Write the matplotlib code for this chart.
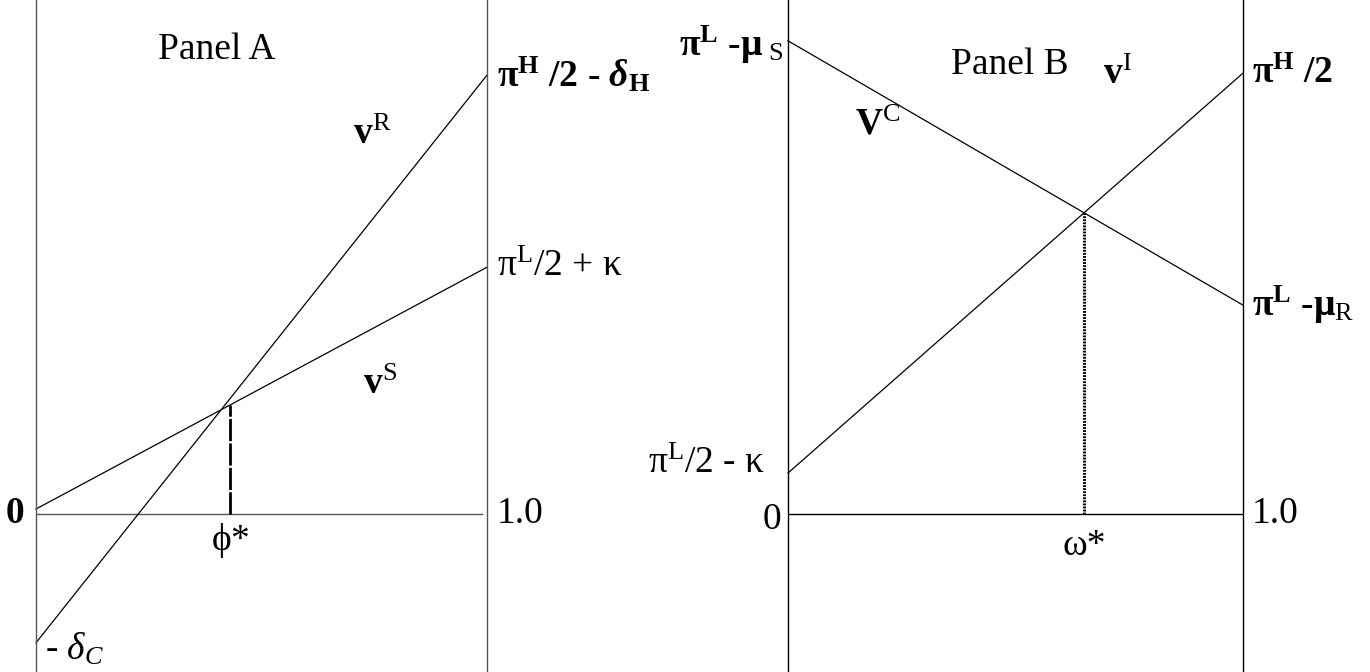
import numpy as np
import matplotlib
matplotlib.use("Agg")
import matplotlib.pyplot as plt

plt.rcParams['font.family'] = ['Liberation Serif', 'DejaVu Serif']
plt.rcParams['mathtext.fontset'] = 'custom'
plt.rcParams['mathtext.rm'] = 'Liberation Serif'
plt.rcParams['mathtext.it'] = 'Liberation Serif:italic'
plt.rcParams['mathtext.bf'] = 'Liberation Serif:bold'
plt.rcParams['mathtext.bfit'] = 'Liberation Serif:italic:bold'

# share of the way along the horizontal axis
x_ends = [0.0, 1.0]

# panel A (units: pi^H/2 - delta_H roughly = 1)
vR = [-0.285, 0.971]
vS = [0.011, 0.546]
phi_star = 0.43

# panel B
vC = [1.040, 0.459]
vI = [0.090, 0.969]
omega_star = 0.65

FS = 27
fig = plt.figure(figsize=(13.7, 6.72), dpi=100)

# ---- Panel A
axA = fig.add_axes([36/1370, 0, 451/1370, 1])
axA.set_xlim(0, 1)
axA.set_ylim(-0.3496, 1.1372)
axA.axhline(0, xmin=0, xmax=0.99, color='#555555', lw=1.0)
axA.plot(x_ends, vR, color='black', lw=0.9, clip_on=False)
axA.plot(x_ends, vS, color='black', lw=0.9, clip_on=False)
yA = np.interp(phi_star, x_ends, vS)
axA.plot([phi_star, phi_star], [0, yA], color='black', lw=2.0,
         linestyle=(0, (8, 0.8)))

axA.text(0.40, 1.027, "Panel A", fontsize=FS, ha='center', va='center')
axA.text(0.745, 0.838, r"$\mathbf{v}^{\mathrm{R}}$", fontsize=FS, ha='center', va='center')
axA.text(0.763, 0.285, r"$\mathbf{v}^{\mathrm{S}}$", fontsize=FS, ha='center', va='center')
axA.text(1.022, vR[1], r"$\mathbf{\pi^{H}}$ /2 - $\mathbfit{\delta}_{\mathbf{H}}$",
         fontsize=FS, fontweight='bold', ha='left', va='center', clip_on=False)
axA.text(1.022, vS[1], r"π$^{\mathrm{L}}$/2 + κ", fontsize=FS,
         ha='left', va='center', clip_on=False)
axA.text(1.022, 0, "1.0", fontsize=FS, ha='left', va='center', clip_on=False)
axA.text(-0.025, 0, "0", fontsize=FS, fontweight='bold', ha='right', va='center',
         clip_on=False)
axA.text(phi_star, -0.058, r"$\mathrm{\phi}$*", fontsize=FS, ha='center', va='center')
axA.text(0.02, -0.30, r"- $\delta_{C}$", fontsize=FS, ha='left', va='center')

# ---- Panel B
axB = fig.add_axes([788/1370, 0, 455/1370, 1])
axB.set_xlim(0, 1)
axB.set_ylim(-0.3473, 1.1297)
axB.axhline(0, color='black', lw=1.0)
axB.plot(x_ends, vC, color='black', lw=0.9, clip_on=False)
axB.plot(x_ends, vI, color='black', lw=0.9, clip_on=False)
yB = min(np.interp(omega_star, x_ends, vC), np.interp(omega_star, x_ends, vI))
axB.plot([omega_star, omega_star], [0, yB], color='black', lw=2.2,
         linestyle=(0, (0.6, 0.4)))

axB.text(0.488, 0.987, "Panel B", fontsize=FS, ha='center', va='center')
axB.text(-0.01, vC[0] - 0.01, r"$\mathbf{\pi^{L}}$ -$\mathbf{\mu}_{\ \mathrm{S}}$",
         fontsize=FS, fontweight='bold', ha='right', va='center', clip_on=False)
axB.text(0.198, 0.855, r"$\mathbf{V}^{\mathrm{C}}$", fontsize=FS, ha='center', va='center')
axB.text(0.723, 0.965, r"$\mathbf{v}^{\mathrm{I}}$", fontsize=FS, ha='center', va='center')
axB.text(1.02, vI[1], r"$\mathbf{\pi^{H}}$ /2", fontsize=FS, fontweight='bold',
         ha='left', va='center', clip_on=False)
axB.text(1.02, vC[1], r"$\mathbf{\pi^{L}}$ -$\mathbf{\mu}_{\mathrm{R}}$", fontsize=FS,
         fontweight='bold', ha='left', va='center', clip_on=False)
axB.text(-0.05, vI[0] + 0.02, r"π$^{\mathrm{L}}$/2 - κ", fontsize=FS,
         ha='right', va='center', clip_on=False)
axB.text(-0.015, -0.013, "0", fontsize=FS, ha='right', va='center', clip_on=False)
axB.text(1.02, 0, "1.0", fontsize=FS, ha='left', va='center', clip_on=False)
axB.text(omega_star, -0.07, "ω*", fontsize=FS, ha='center', va='center')

for ax, col in [(axA, '#555555'), (axB, 'black')]:
    ax.set_xticks([])
    ax.set_yticks([])
    ax.patch.set_alpha(0)
    for s in ['top', 'bottom']:
        ax.spines[s].set_visible(False)
    for s in ['left', 'right']:
        ax.spines[s].set_color(col)
        ax.spines[s].set_linewidth(1.0)

fig.savefig("out.png", dpi=100)
